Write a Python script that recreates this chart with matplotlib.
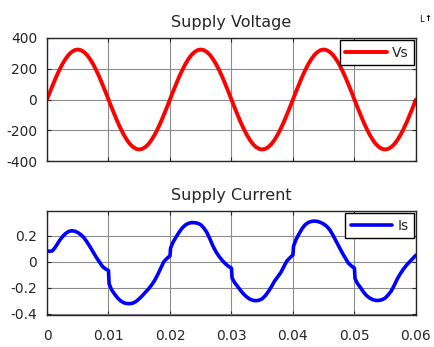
import matplotlib
matplotlib.use("Agg")
import matplotlib.pyplot as plt

plt.rcParams["font.family"] = ["DejaVu Sans"]
plt.rcParams["axes.unicode_minus"] = False

# supply voltage, sampled every 0.5 ms
t_vs = [k * 0.0005 for k in range(121)]
vs = [0, 51, 100, 148, 191, 230, 263, 290, 309, 321,
      325, 321, 309, 290, 263, 230, 191, 148, 100, 51,
      0, -51, -100, -148, -191, -230, -263, -290, -309, -321,
      -325, -321, -309, -290, -263, -230, -191, -148, -100, -51,
      0, 51, 100, 148, 191, 230, 263, 290, 309, 321,
      325, 321, 309, 290, 263, 230, 191, 148, 100, 51,
      0, -51, -100, -148, -191, -230, -263, -290, -309, -321,
      -325, -321, -309, -290, -263, -230, -191, -148, -100, -51,
      0, 51, 100, 148, 191, 230, 263, 290, 309, 321,
      325, 321, 309, 290, 263, 230, 191, 148, 100, 51,
      0, -51, -100, -148, -191, -230, -263, -290, -309, -321,
      -325, -321, -309, -290, -263, -230, -191, -148, -100, -51,
      0]

# supply current, with the steps at each zero crossing of the voltage
t_is = [0.0000, 0.0008, 0.0010, 0.0015, 0.0020, 0.0025, 0.0030, 0.0035,
        0.0040, 0.0045, 0.0050, 0.0055, 0.0060, 0.0065, 0.0070, 0.0075,
        0.0080, 0.0085, 0.0090, 0.0095, 0.0100,
        0.0101, 0.0105, 0.0110, 0.0115, 0.0120, 0.0125, 0.0130, 0.0135,
        0.0140, 0.0145, 0.0150, 0.0155, 0.0160, 0.0165, 0.0170, 0.0175,
        0.0180, 0.0185, 0.0190, 0.0195, 0.0200,
        0.0201, 0.0205, 0.0210, 0.0215, 0.0220, 0.0225, 0.0230, 0.0235,
        0.0240, 0.0245, 0.0250, 0.0255, 0.0260, 0.0265, 0.0270, 0.0275,
        0.0280, 0.0285, 0.0290, 0.0295, 0.0300,
        0.0301, 0.0305, 0.0310, 0.0315, 0.0320, 0.0325, 0.0330, 0.0335,
        0.0340, 0.0345, 0.0350, 0.0355, 0.0360, 0.0365, 0.0370, 0.0375,
        0.0380, 0.0385, 0.0390, 0.0395, 0.0400,
        0.0401, 0.0405, 0.0410, 0.0415, 0.0420, 0.0425, 0.0430, 0.0435,
        0.0440, 0.0445, 0.0450, 0.0455, 0.0460, 0.0465, 0.0470, 0.0475,
        0.0480, 0.0485, 0.0490, 0.0495, 0.0500,
        0.0501, 0.0505, 0.0510, 0.0515, 0.0520, 0.0525, 0.0530, 0.0535,
        0.0540, 0.0545, 0.0550, 0.0555, 0.0560, 0.0565, 0.0570, 0.0575,
        0.0580, 0.0585, 0.0590, 0.0595, 0.0600]
i_s = [0.080, 0.082, 0.090, 0.122, 0.160, 0.192, 0.216, 0.232,
       0.238, 0.235, 0.225, 0.208, 0.185, 0.152, 0.115, 0.075,
       0.035, 0.000, -0.035, -0.055, -0.068,
       -0.170, -0.215, -0.250, -0.280, -0.302, -0.316, -0.322, -0.323,
       -0.318, -0.305, -0.285, -0.262, -0.235, -0.210, -0.180, -0.145,
       -0.100, -0.050, 0.000, 0.025, 0.045,
       0.105, 0.150, 0.190, 0.228, 0.260, 0.282, 0.295, 0.301,
       0.300, 0.296, 0.285, 0.260, 0.225, 0.175, 0.120, 0.075,
       0.040, 0.010, -0.015, -0.035, -0.050,
       -0.125, -0.160, -0.190, -0.222, -0.250, -0.272, -0.288, -0.297,
       -0.300, -0.296, -0.285, -0.262, -0.230, -0.192, -0.150, -0.118,
       -0.085, -0.040, 0.005, 0.030, 0.052,
       0.120, 0.170, 0.215, 0.255, 0.285, 0.302, 0.310, 0.313,
       0.310, 0.302, 0.290, 0.272, 0.245, 0.205, 0.160, 0.115,
       0.070, 0.030, -0.010, -0.032, -0.050,
       -0.130, -0.168, -0.200, -0.235, -0.262, -0.280, -0.292, -0.298,
       -0.298, -0.292, -0.280, -0.255, -0.225, -0.180, -0.130, -0.090,
       -0.055, -0.025, 0.000, 0.025, 0.050]

x_ticks = [0, 0.01, 0.02, 0.03, 0.04, 0.05, 0.06]
x_labels = ["0", "0.01", "0.02", "0.03", "0.04", "0.05", "0.06"]
vs_ticks = [-400, -200, 0, 200, 400]
is_ticks = [-0.4, -0.2, 0, 0.2]
is_labels = ["-0.4", "-0.2", "0", "0.2"]

TXT = "#262626"


def style(ax):
    ax.grid(True, color="#8c8c8c", linewidth=0.8)
    ax.set_axisbelow(True)
    for s in ax.spines.values():
        s.set_color(TXT)
        s.set_linewidth(1.0)
    ax.tick_params(direction="in", length=3, width=0.8, top=True, right=True,
                   colors=TXT, labelsize=10)
    ax.tick_params(axis="x", pad=10)
    ax.tick_params(axis="y", pad=7)
    ax.set_xlim(0, 0.06)
    ax.set_xticks(x_ticks)


fig = plt.figure(figsize=(4.34, 3.47), dpi=100)

ax1 = fig.add_axes([0.1083, 0.536, 0.850, 0.3545])
ax1.plot(t_vs, vs, color="#ff0000", linewidth=2.8, label="Vs",
         solid_joinstyle="round", solid_capstyle="round")
style(ax1)
ax1.set_xticklabels([])
ax1.set_ylim(-400, 400)
ax1.set_yticks(vs_ticks)
ax1.set_title("Supply Voltage", fontsize=11.5, color=TXT, pad=8)

ax2 = fig.add_axes([0.1083, 0.0922, 0.850, 0.2997])
ax2.plot(t_is, i_s, color="#0000ff", linewidth=2.6, label="Is",
         solid_joinstyle="round", solid_capstyle="round")
style(ax2)
ax2.set_xticklabels(x_labels)
ax2.set_ylim(-0.41, 0.39)
ax2.set_yticks(is_ticks)
ax2.set_yticklabels(is_labels)
ax2.set_title("Supply Current", fontsize=11.5, color=TXT, pad=8)

for ax in (ax1, ax2):
    leg = ax.legend(loc="upper right", bbox_to_anchor=(1.0, 1.0),
                    borderaxespad=0.15, fancybox=False, framealpha=1,
                    edgecolor="black", fontsize=10, handlelength=3.0,
                    handletextpad=0.35, borderpad=0.4)
    leg.get_frame().set_linewidth(1.0)
    for txt in leg.get_texts():
        txt.set_color(TXT)

# small undock glyph in the corner
fig.text(0.972, 0.945, "L", fontsize=6, color="black", ha="center", va="center")
fig.text(0.985, 0.948, "\u2191", fontsize=6, color="black", ha="center",
         va="center", fontweight="bold")

fig.savefig("out.png", dpi=100, facecolor="white")
